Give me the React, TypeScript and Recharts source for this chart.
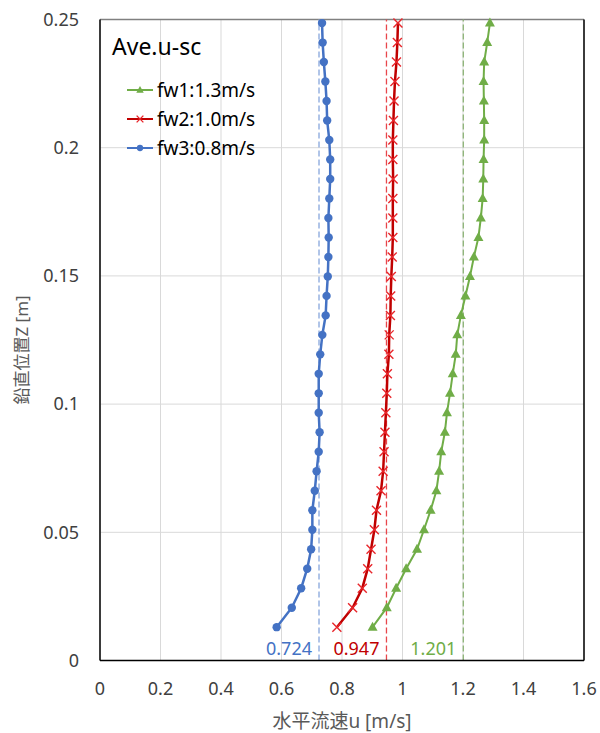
import { ScatterChart, Scatter, XAxis, YAxis, CartesianGrid, ReferenceLine, Legend } from 'recharts';

const FONT = '"Noto Sans", "Noto Sans CJK JP", sans-serif';

// vertical positions of the measuring points [m]
const Z_LEVELS = [
  0.013, 0.0206, 0.0282, 0.0358, 0.0434, 0.051, 0.0586, 0.0662, 0.0738, 0.0814, 0.089,
  0.0966, 0.1042, 0.1118, 0.1194, 0.127, 0.1346, 0.1422, 0.1498, 0.1574, 0.165,
  0.1726, 0.1802, 0.1878, 0.1954, 0.203, 0.2106, 0.2182, 0.2258, 0.2334, 0.241, 0.2486,
];

const FW1_U = [
  0.901, 0.948, 0.979, 1.012, 1.048, 1.071, 1.093, 1.112, 1.121, 1.128, 1.14,
  1.147, 1.157, 1.166, 1.176, 1.181, 1.193, 1.208, 1.223, 1.236, 1.251,
  1.259, 1.265, 1.267, 1.268, 1.27, 1.27, 1.269, 1.268, 1.27, 1.28, 1.289,
];
const FW2_U = [
  0.783, 0.835, 0.867, 0.885, 0.896, 0.907, 0.914, 0.929, 0.936, 0.939, 0.942,
  0.945, 0.948, 0.95, 0.955, 0.956, 0.96, 0.961, 0.963, 0.966, 0.968,
  0.968, 0.968, 0.969, 0.968, 0.968, 0.97, 0.972, 0.975, 0.98, 0.983, 0.985,
];
const FW3_U = [
  0.584, 0.634, 0.665, 0.685, 0.698, 0.702, 0.702, 0.71, 0.716, 0.723, 0.726,
  0.723, 0.723, 0.723, 0.728, 0.735, 0.746, 0.749, 0.753, 0.755, 0.756,
  0.755, 0.758, 0.761, 0.761, 0.758, 0.751, 0.749, 0.745, 0.74, 0.736, 0.734,
];

const MEAN_U = [1.201, 0.947, 0.724];
const MEAN_LABELS = ['1.201', '0.947', '0.724'];
const SERIES_NAMES = ['fw1:1.3m/s', 'fw2:1.0m/s', 'fw3:0.8m/s'];

const X_TICKS = [0, 0.2, 0.4, 0.6, 0.8, 1, 1.2, 1.4, 1.6];
const Y_TICKS = [0, 0.05, 0.1, 0.15, 0.2, 0.25];

const GREEN = '#70AD47';
const RED = '#C00000';
const RED_MARK = '#E8262B';
const BLUE = '#4472C4';

const toPoints = (us: number[]) => Z_LEVELS.map((z, i) => ({ u: us[i], z }));

const Triangle = ({ cx, cy, size = 1 }: any) => (
  <path
    d={`M${cx},${cy - 5.5 * size} L${cx + 5 * size},${cy + 3.5 * size} L${cx - 5 * size},${cy + 3.5 * size} Z`}
    fill={GREEN}
  />
);

const Cross = ({ cx, cy, size = 1 }: any) => {
  const r = 4.5 * size;
  return (
    <path
      d={`M${cx - r},${cy - r} L${cx + r},${cy + r} M${cx - r},${cy + r} L${cx + r},${cy - r}`}
      stroke={RED_MARK}
      strokeWidth={1.4}
      fill="none"
    />
  );
};

const Dot = ({ cx, cy, size = 1 }: any) => <circle cx={cx} cy={cy} r={4.2 * size} fill={BLUE} />;

const SERIES = [
  { name: SERIES_NAMES[0], data: toPoints(FW1_U), line: GREEN, width: 2, Mark: Triangle, dash: '#8DB477', mean: MEAN_U[0], label: MEAN_LABELS[0], text: GREEN },
  { name: SERIES_NAMES[1], data: toPoints(FW2_U), line: RED, width: 2.5, Mark: Cross, dash: '#E8464B', mean: MEAN_U[1], label: MEAN_LABELS[1], text: RED },
  { name: SERIES_NAMES[2], data: toPoints(FW3_U), line: BLUE, width: 2.5, Mark: Dot, dash: '#86A6DC', mean: MEAN_U[2], label: MEAN_LABELS[2], text: BLUE },
];

const MeanLabel = ({ viewBox, text, color }: any) => {
  if (!viewBox) return null;
  return (
    <text
      x={viewBox.x - 7}
      y={viewBox.y + viewBox.height - 5.5}
      textAnchor="end"
      fill={color}
      fontSize={18}
      fontFamily={FONT}
    >
      {text}
    </text>
  );
};

const XTitle = ({ viewBox }: any) => (
  <text x={viewBox.x + viewBox.width / 2} y={viewBox.y + 67} textAnchor="middle" fill="#595959" fontSize={19} fontFamily={FONT}>
    水平流速u [m/s]
  </text>
);

const YTitle = ({ viewBox }: any) => {
  const x = viewBox.x + 21;
  const y = 350;
  return (
    <text x={x} y={y} textAnchor="middle" dominantBaseline="central" transform={`rotate(-90 ${x} ${y})`} fill="#595959" fontSize={17} fontFamily={FONT}>
      鉛直位置Z [m]
    </text>
  );
};

const LegendBox = () => (
  <svg width={220} height={150} style={{ display: 'block', overflow: 'visible' }}>
    <text x={12} y={35} fontSize={23} fill="#000" fontFamily={FONT}>Ave.u-sc</text>
    {SERIES.map((s, i) => {
      const y = 70 + i * 29;
      const M = s.Mark;
      return (
        <g key={s.name}>
          <line x1={27} x2={53} y1={y} y2={y} stroke={s.line} strokeWidth={2} />
          <M cx={40} cy={y} size={0.75} />
          <text x={57} y={y} dominantBaseline="central" fontSize={19} fill="#000" fontFamily={FONT}>{s.name}</text>
        </g>
      );
    })}
  </svg>
);

export default function App() {
  return (
    <div style={{ position: 'absolute', left: 0, top: 0, width: 600, height: 733, background: '#fff' }}>
      <ScatterChart width={600} height={733} margin={{ top: 19.5, right: 16, bottom: 0, left: 0 }}>
        <CartesianGrid stroke="#D9D9D9" strokeWidth={1} />
        <XAxis
          type="number"
          dataKey="u"
          domain={[0, 1.6]}
          ticks={X_TICKS}
          height={72.5}
          tickSize={0}
          tickMargin={22}
          tickLine={false}
          axisLine={{ stroke: '#000', strokeWidth: 1.5 }}
          tick={{ fill: '#404040', fontSize: 18, fontFamily: FONT }}
          label={<XTitle />}
        />
        <YAxis
          type="number"
          dataKey="z"
          domain={[0, 0.25]}
          ticks={Y_TICKS}
          width={100}
          tickSize={0}
          tickMargin={21}
          tickLine={false}
          axisLine={{ stroke: '#000', strokeWidth: 1.5 }}
          tick={{ fill: '#404040', fontSize: 18, fontFamily: FONT }}
          label={<YTitle />}
        />
        <ReferenceLine y={0.25} stroke="#808080" strokeWidth={1.5} />
        <ReferenceLine x={1.6} stroke="#000" strokeWidth={1.5} />
        {SERIES.map((s) => (
          <ReferenceLine
            key={'m' + s.name}
            x={s.mean}
            stroke={s.dash}
            strokeWidth={1.3}
            strokeDasharray="6 3"
            label={<MeanLabel text={s.label} color={s.text} />}
          />
        ))}
        {SERIES.map((s) => (
          <Scatter
            key={s.name}
            name={s.name}
            data={s.data}
            fill={s.line}
            line={{ stroke: s.line, strokeWidth: s.width }}
            shape={(p: any) => <s.Mark cx={p.cx} cy={p.cy} />}
            isAnimationActive={false}
          />
        ))}
        <Legend
          layout="vertical"
          align="center"
          verticalAlign="middle"
          wrapperStyle={{ left: 100, top: 20, width: 220, height: 150 }}
          content={() => <LegendBox />}
        />
      </ScatterChart>
    </div>
  );
}
